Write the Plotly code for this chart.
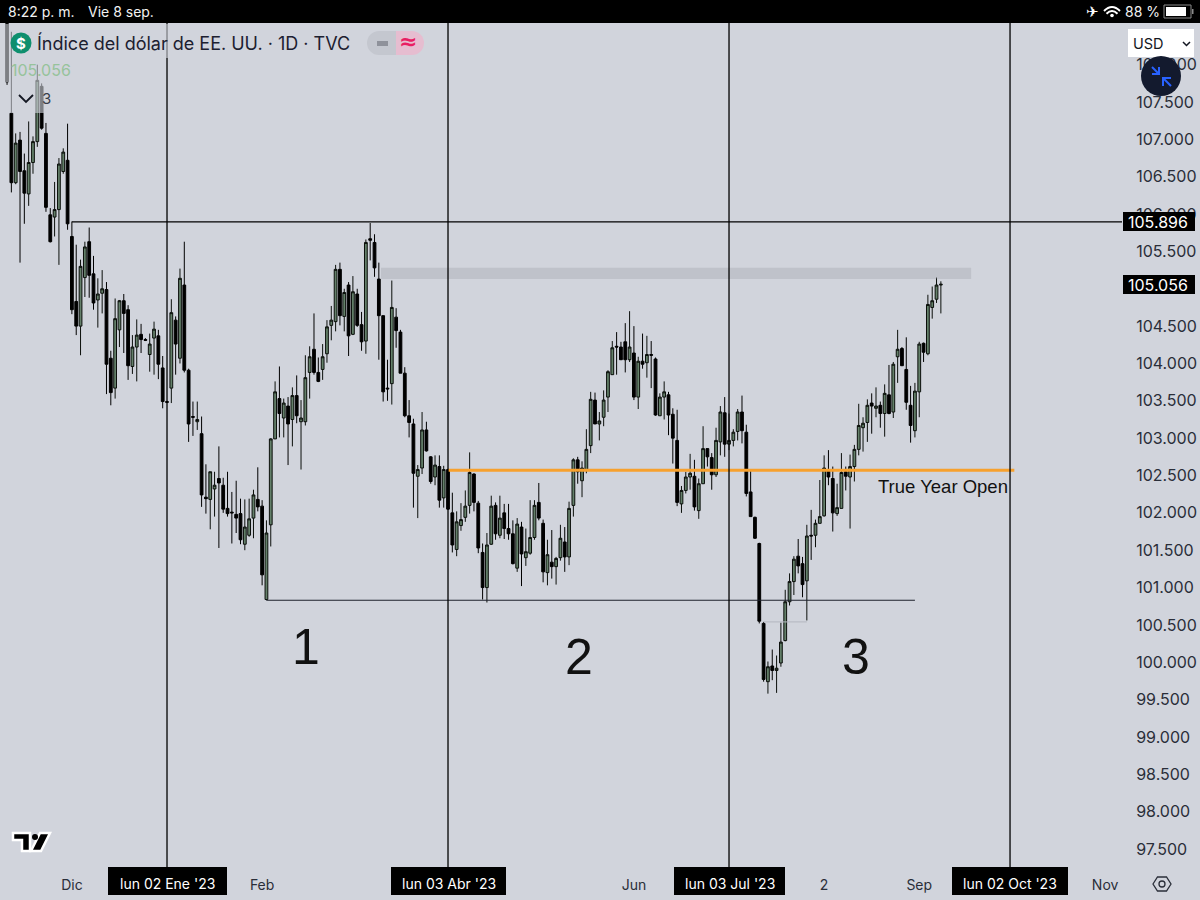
import plotly.graph_objects as go

# weekday bars counted from lun 02 Ene '23 = 0
bars = list(range(-37, 180))

opens = [
    108.55,107.35,106.42,106.99,106.58,106.27,106.69,106.97,107.71,107.08,
    105.99,105.96,106.06,106.57,106.72,105.70,104.83,104.50,105.15,105.63,
    105.20,104.85,104.94,104.99,104.07,103.67,104.45,104.84,104.72,103.96,
    104.22,104.39,104.32,104.12,104.34,104.37,103.94,103.49,103.67,104.58,
    104.07,105.05,103.91,103.29,103.22,103.06,102.21,102.18,102.32,102.46,
    102.37,102.06,102.01,101.98,101.99,101.58,101.70,101.93,102.18,102.09,
    100.84,101.84,102.99,103.53,103.27,103.43,103.25,103.57,103.22,103.22,
    103.88,104.19,103.88,103.92,104.13,104.51,104.56,105.26,104.63,105.05,
    104.39,104.93,104.52,104.30,105.67,105.62,105.13,104.64,103.67,103.73,
    104.62,104.42,103.87,103.30,103.19,102.49,102.60,103.11,102.75,102.48,
    102.62,102.20,102.58,102.00,101.51,101.83,101.94,102.10,102.52,102.13,
    101.47,101.00,101.58,102.10,101.70,102.00,101.79,101.72,101.26,101.81,
    101.40,101.46,101.67,102.14,101.86,101.20,101.34,101.28,101.40,101.61,
    101.41,102.10,102.71,102.43,102.57,102.90,103.51,103.19,103.28,103.55,
    103.85,104.23,104.22,104.29,104.05,104.14,103.55,104.03,104.01,104.12,
    104.06,103.30,103.55,103.58,103.32,102.97,102.12,102.30,102.48,102.49,
    102.03,102.39,102.86,102.74,102.51,102.95,103.34,102.92,102.97,103.09,
    103.35,103.08,102.28,101.94,101.59,100.52,99.74,99.95,99.89,99.99,
    100.29,100.81,101.08,101.42,101.32,101.09,101.70,101.70,101.86,101.96,
    102.58,102.46,101.99,102.06,102.55,102.48,102.62,102.85,103.14,103.21,
    103.47,103.40,103.44,103.33,103.58,103.35,104.09,104.20,103.92,103.44,
    103.10,103.62,104.27,104.13,104.75,104.86,105.05,
]
highs = [
    108.70,108.44,107.08,107.10,106.81,107.24,107.04,108.00,107.75,107.22,
    106.08,106.43,106.75,106.88,107.21,105.90,105.59,105.39,105.63,105.82,
    105.44,105.14,105.25,105.09,104.17,104.87,104.85,104.93,104.78,104.38,
    104.59,104.53,104.34,104.40,104.56,104.45,104.10,103.50,104.86,104.63,
    105.27,105.63,103.93,103.49,103.49,103.29,102.65,102.55,102.55,102.89,
    102.47,102.55,102.28,102.43,102.19,102.18,102.19,102.31,102.61,102.17,
    101.90,103.00,103.76,103.96,103.53,103.55,103.68,103.84,103.51,104.11,
    104.23,104.67,104.08,104.26,104.58,104.77,105.32,105.35,105.00,105.09,
    105.17,105.00,104.69,105.66,105.88,105.73,105.35,104.64,104.05,105.11,
    104.74,104.45,103.95,103.51,103.26,102.64,103.35,103.22,102.76,102.77,
    102.77,102.63,102.59,102.27,102.02,102.13,102.30,102.81,102.53,102.16,
    101.59,101.73,102.23,102.14,102.23,102.12,102.12,101.90,101.93,101.88,
    101.79,102.17,102.17,102.40,101.91,101.64,101.77,101.41,101.84,101.81,
    102.15,102.73,102.75,102.69,103.12,103.62,103.61,103.35,103.64,103.91,
    104.30,104.42,104.29,104.54,104.70,104.50,104.09,104.40,104.37,104.30,
    104.08,103.60,103.76,103.62,103.40,103.38,102.36,102.55,102.79,102.71,
    102.46,103.16,102.86,102.80,103.14,103.43,103.55,103.33,103.12,103.39,
    103.57,103.18,102.56,101.95,101.60,100.54,100.01,100.17,100.09,100.53,
    100.97,101.19,101.42,101.65,101.41,101.84,102.04,101.91,102.44,102.77,
    102.84,102.62,102.39,102.80,102.62,102.78,102.91,103.46,103.28,103.52,
    103.60,103.68,103.49,103.72,103.98,104.02,104.45,104.22,104.35,103.70,
    103.74,104.29,104.28,104.92,105.03,105.15,105.10,
]
lows = [
    107.73,106.29,106.40,105.35,105.87,106.11,106.54,106.90,107.13,106.03,
    105.62,105.70,105.32,106.54,105.79,104.66,104.38,104.11,104.89,104.88,
    104.72,104.48,104.67,103.59,103.44,103.53,104.22,104.14,103.78,103.86,
    103.76,104.14,104.30,103.89,103.85,103.79,103.40,103.47,103.47,103.85,
    104.00,103.88,102.95,103.03,103.11,102.08,101.99,101.78,101.95,101.53,
    102.00,101.95,101.59,101.73,101.58,101.50,101.68,101.66,102.02,101.03,
    100.83,101.55,102.99,103.01,103.01,102.64,102.89,103.20,102.58,103.17,
    103.53,103.85,103.75,103.78,104.01,104.31,104.43,104.51,104.43,104.10,
    104.38,104.49,104.17,104.13,105.38,105.16,104.05,103.49,103.50,103.45,
    104.21,103.87,103.28,103.01,102.07,101.93,102.52,102.82,102.39,102.37,
    102.07,102.07,102.04,101.47,101.42,101.76,101.88,101.99,102.02,101.46,
    100.84,100.80,101.57,101.64,101.66,101.65,101.64,101.31,101.21,101.02,
    101.29,101.44,101.64,101.90,101.07,101.03,101.12,101.04,101.36,101.21,
    101.30,101.95,102.39,102.21,102.53,102.80,103.19,102.97,103.16,103.35,
    103.85,103.85,104.05,103.88,104.02,103.51,103.39,103.93,103.81,103.67,
    103.30,103.30,103.25,103.04,102.66,102.09,102.00,102.26,102.31,102.03,
    101.92,102.39,102.62,102.31,102.48,102.77,102.75,102.84,102.89,102.97,
    102.93,102.22,101.95,101.65,100.52,99.74,99.58,99.76,99.59,99.94,
    100.28,100.76,100.90,101.19,100.87,100.56,101.37,101.54,101.86,101.95,
    102.37,101.75,101.96,102.06,102.30,101.79,102.42,102.77,102.82,102.95,
    103.06,103.28,103.14,103.02,103.32,103.27,103.74,103.97,103.38,102.94,
    103.01,103.28,104.02,104.11,104.60,104.81,104.67,
]
closes = [
    107.77,106.42,106.95,106.57,106.28,106.69,106.97,107.79,107.15,106.09,
    105.63,106.06,106.67,106.83,105.87,104.72,104.50,105.30,105.56,105.18,
    104.81,104.93,105.00,103.99,103.61,104.60,104.84,104.67,103.97,104.22,
    104.38,104.32,104.31,104.26,104.46,103.99,103.49,103.48,104.68,104.26,
    105.14,103.91,103.19,103.28,103.25,102.24,102.19,102.55,102.37,102.40,
    102.05,101.99,102.00,101.93,101.64,101.81,101.92,102.24,102.08,101.17,
    101.73,102.99,103.62,103.33,103.47,103.19,103.57,103.30,103.27,103.81,
    104.09,103.88,103.76,104.09,104.49,104.58,105.26,104.64,104.95,104.37,
    104.96,104.51,104.29,105.62,105.65,105.28,104.64,103.62,103.66,104.75,
    104.44,103.87,103.30,103.21,102.53,102.58,103.11,102.83,102.42,102.64,
    102.17,102.58,102.05,101.57,101.88,101.91,102.09,102.54,102.14,101.53,
    101.00,101.57,102.09,101.72,101.93,101.79,101.72,101.32,101.85,101.45,
    101.48,101.67,102.10,101.93,101.21,101.44,101.28,101.39,101.66,101.41,
    102.06,102.71,102.55,102.60,102.85,103.52,103.19,103.23,103.51,103.89,
    104.21,104.22,104.05,104.05,104.22,103.55,104.03,103.99,104.12,104.11,
    103.31,103.55,103.62,103.31,103.00,102.14,102.30,102.48,102.53,102.08,
    102.39,102.86,102.75,102.51,102.97,103.35,102.92,102.97,103.08,103.35,
    103.10,102.26,101.95,101.66,100.55,99.77,99.94,99.89,99.92,100.27,
    100.81,101.08,101.38,101.29,101.04,101.69,101.69,101.86,101.95,102.60,
    102.48,102.00,102.07,102.54,102.49,102.62,102.85,103.17,103.20,103.44,
    103.43,103.43,103.33,103.60,103.33,103.99,104.19,103.97,103.48,103.17,
    103.63,104.26,104.15,104.79,104.84,105.05,105.06,
]

# axis labels
month_bars = [-22, 22, 108, 152, 174, 217]
month_labels = ["Dic", "Feb", "Jun", "2", "Sep", "Nov"]
quarter_bars = [0, 65, 130, 195]
quarter_labels = ["lun 02 Ene '23", "lun 03 Abr '23", "lun 03 Jul '23", "lun 02 Oct '23"]
# 105.000 sits behind the last price tag in the reference, so it is left out
price_ticks = [97.5 + 0.5 * i for i in range(22) if i != 15]

# levels drawn on the chart
prev_high = 105.896
last_price = 105.056
year_open = 102.57
support = 100.83
zone_top = 105.28
zone_bottom = 105.13

BG = "#d1d4dc"
INK = "#131722"
UI_FONT = "Inter"

fig = go.Figure(go.Candlestick(
    x=bars, open=opens, high=highs, low=lows, close=closes,
    increasing=dict(line=dict(color="#0b0f0b", width=1), fillcolor="#64806a"),
    decreasing=dict(line=dict(color="#000000", width=1), fillcolor="#000000"),
    whiskerwidth=0, hoverinfo="skip", showlegend=False,
))


# figure pixels to paper coordinates (margins are 0, so paper = page)
def fx(px):
    return px / 1200


def fy(py):
    return 1 - py / 900


def box(x0, y0, x1, y1, fill, opacity=1, line=None):
    fig.add_shape(type="rect", xref="paper", yref="paper", x0=fx(x0), x1=fx(x1), y0=fy(y0), y1=fy(y1),
                  fillcolor=fill, opacity=opacity, line=line or dict(width=0))


def curve(points, color, width=1.5, fill=None):
    fig.add_shape(type="path", xref="paper", yref="paper", path=points,
                  line=dict(color=color, width=width), fillcolor=fill)


def poly(pts, close=False):
    s = "M" + " L".join(f"{fx(x):.5f},{fy(y):.5f}" for x, y in pts)
    return s + (" Z" if close else "")


def label(px, py, text, size, color=INK, anchor="center", font=UI_FONT):
    fig.add_annotation(xref="paper", yref="paper", x=fx(px), y=fy(py), text=text, showarrow=False,
                       xanchor=anchor, yanchor="middle", font=dict(size=size, color=color, family=font))


def dot(cx, cy, r, fill):
    fig.add_shape(type="circle", xref="paper", yref="paper", x0=fx(cx - r), x1=fx(cx + r),
                  y0=fy(cy - r), y1=fy(cy + r), fillcolor=fill, line=dict(width=0))


# drawings on the price scale
fig.add_shape(type="rect", x0=49.5, x1=186, y0=zone_bottom, y1=zone_top, fillcolor="#9598a1", opacity=0.3, line=dict(width=0))
fig.add_shape(type="line", x0=-22, x1=221, y0=prev_high, y1=prev_high, line=dict(color="#000000", width=1.2))
fig.add_shape(type="line", x0=65, x1=196, y0=year_open, y1=year_open, line=dict(color="#f7a12e", width=3))
fig.add_shape(type="line", x0=23, x1=173, y0=support, y1=support, line=dict(color="#1e222d", width=1.2))
fig.add_shape(type="line", x0=138, x1=148, y0=100.54, y1=100.54, line=dict(color="#b4b7bf", width=1))
for b in quarter_bars:
    fig.add_shape(type="line", x0=b, x1=b, yref="y domain", y0=0, y1=1, line=dict(color="#000000", width=1.3))

fig.add_annotation(x=32.2, y=100.2, text="1", showarrow=False, font=dict(size=50, color="#111", family="Liberation Sans"))
fig.add_annotation(x=95.2, y=100.07, text="2", showarrow=False, font=dict(size=50, color="#111", family="Liberation Sans"))
fig.add_annotation(x=159.4, y=100.07, text="3", showarrow=False, font=dict(size=50, color="#111", family="Liberation Sans"))
fig.add_annotation(x=163.9, y=102.35, text="True Year Open", showarrow=False, xanchor="left",
                   font=dict(size=18.5, color="#111", family="Liberation Sans"))

# legend backdrop, candles show through it
box(5, 24, 355, 58, BG, 0.6)
box(5, 58, 75, 82, BG, 0.6)
box(10, 82, 45, 113, BG, 0.6)

dot(21, 43, 10.5, "#0e8f6e")
label(21, 43, "<b>$</b>", 15, "white")
label(35, 43, "Índice del dólar de EE. UU. · 1D · TVC", 18, "#1c2030", "left")
# pill with round ends
dot(379, 43, 12, "#c4c7cf")
box(379, 31, 396, 55, "#c4c7cf")
dot(412, 43, 12, "#e6bdd0")
box(396, 31, 412, 55, "#e6bdd0")
box(377, 41, 388, 46, "#8f929b")
label(408, 42, "<b>≈</b>", 22, "#e91e63", font="DejaVu Sans")
label(9, 70, "105.056", 16, "#97c39b", "left")
curve(poly([(19, 95), (26, 102), (33, 95)]), INK, 1.8)
label(40, 99, "3", 15, "#3a3e48", "left")

# status bar
box(0, 0, 1200, 23, "#000000")
label(6, 11.5, "8:22 p. m.", 14, "#f2f2f2", "left")
label(86, 11.5, "Vie 8 sep.", 14, "#f2f2f2", "left")
label(1092, 11.5, "✈", 15, "white", font="DejaVu Sans")
for y0, dx, lift in [(11, 8, 8), (13.8, 5.5, 5.5)]:
    curve(f"M{fx(1112 - dx):.5f},{fy(y0):.5f} Q{fx(1112):.5f},{fy(y0 - lift):.5f} {fx(1112 + dx):.5f},{fy(y0):.5f}", "white", 2)
dot(1112, 15.5, 1.8, "white")
label(1123, 11.5, "88 %", 14, "#f2f2f2", "left")
fig.add_shape(type="rect", xref="paper", yref="paper", x0=fx(1164), x1=fx(1191), y0=fy(18), y1=fy(5),
              line=dict(color="#8a8a8a", width=1))
box(1166, 7, 1186, 16, "white")
box(1192, 9, 1193.5, 14, "#8a8a8a")

# price side
box(1128, 29, 1194, 57, "white")
label(1131, 43, "USD", 14.5, INK, "left")
curve(poly([(1183, 42), (1186.5, 45.5), (1190, 42)]), INK, 1.5)
dot(1161, 76, 20, "#131a2e")
curve(poly([(1152, 67), (1159, 74)]), "#2962ff", 2)
curve(poly([(1152, 74), (1159, 74), (1159, 67)]), "#2962ff", 2)
curve(poly([(1171, 86), (1163, 78)]), "#2962ff", 2)
curve(poly([(1171, 78), (1163, 78), (1163, 86)]), "#2962ff", 2)
box(1123, 212, 1195, 231, "#000000")
label(1190, 221.8, "105.896", 16, "white", "right")
box(1123, 275, 1195, 294, "#000000")
label(1190, 284.5, "105.056", 16, "white", "right")

# time side
for (x0, x1), text in zip([(108, 227), (391, 506), (674, 785), (952, 1068)], quarter_labels):
    box(x0, 867, x1, 895, "#000000")
    label((x0 + x1) / 2, 883, text, 14, "white")

# tradingview mark
tv_t = [(13, 833), (30, 833), (30, 851), (22, 851), (22, 840), (13, 840)]
tv_s = [(40, 833), (50, 833), (41, 851), (31, 851)]
curve(poly(tv_t, True), "white", 2.5, "#000000")
curve(poly(tv_s, True), "white", 2.5, "#000000")
dot(35, 837, 3, "#000000")

# settings hexagon
curve(poly([(1153, 884), (1157.5, 877), (1166.5, 877), (1171, 884), (1166.5, 891), (1157.5, 891)], True), "#2a2e39", 1.3)
fig.add_shape(type="circle", xref="paper", yref="paper", x0=fx(1159), x1=fx(1165), y0=fy(887), y1=fy(881),
              line=dict(color="#2a2e39", width=1.3))

fig.update_layout(
    width=1200, height=900,
    margin=dict(l=0, r=0, t=0, b=0),
    paper_bgcolor=BG, plot_bgcolor=BG,
    boxgap=0.2, boxgroupgap=0.2,
    hovermode=False,
    dragmode=False,
    showlegend=False,
    xaxis=dict(
        domain=[0, 1122 / 1200], range=[-38.63, 220.9], rangeslider=dict(visible=False),
        showgrid=False, zeroline=False, showline=False,
        tickmode="array", tickvals=month_bars, ticktext=month_labels,
        ticks="outside", ticklen=5, tickcolor="rgba(0,0,0,0)",
        tickfont=dict(family=UI_FONT, size=14, color="#2a2e39"),
    ),
    yaxis=dict(
        domain=[33 / 900, 877 / 900], range=[97.259, 108.558], side="right",
        showgrid=False, zeroline=False, showline=False,
        tickmode="array", tickvals=price_ticks, tickformat=".3f",
        ticks="outside", ticklen=10, tickcolor="rgba(0,0,0,0)",
        tickfont=dict(family=UI_FONT, size=16, color="#2a2e39"),
    ),
)

fig.write_html("out.html", config=dict(displayModeBar=False),
               post_script="document.body.style.margin='0';document.body.style.overflow='hidden';")
